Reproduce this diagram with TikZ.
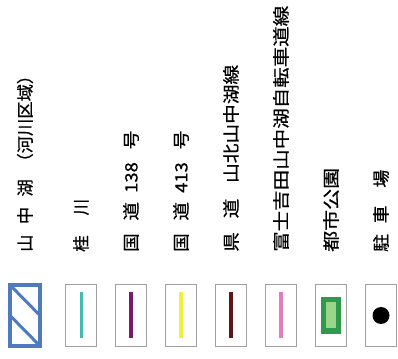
\documentclass[tikz,border=0pt]{standalone}
\usepackage{fontspec}
\setmainfont{Noto Sans CJK JP}[FakeBold=0.6]
\usepackage{graphicx}
\definecolor{lakeblue}{HTML}{4E7BC0}
\definecolor{boxgray}{HTML}{A0A0A0}
\definecolor{rivercol}{HTML}{45B8B4}
\definecolor{routeA}{HTML}{7A1A6A}
\definecolor{routeB}{HTML}{F0F03C}
\definecolor{prefcol}{HTML}{5E1616}
\definecolor{cyclecol}{HTML}{E67CC0}
\definecolor{parkdark}{HTML}{2F9A4B}
\definecolor{parklight}{HTML}{9BD58A}
\usetikzlibrary{positioning}
\tikzset{
  framebox/.style={draw=boxgray, line width=1pt, minimum width=31pt, minimum height=62pt, inner sep=0pt},
  lbl/.style={rotate=90, anchor=west, inner sep=0pt, font=\fontsize{17}{17}\selectfont},
  symline/.style={line width=4pt}
}
\newcommand{\legendtext}[2]{\resizebox{#1}{\height}{#2}}

\begin{document}
\begin{tikzpicture}[x=1pt,y=1pt]
  \useasboundingbox (0,0) rectangle (398,358);

  % Boxes
  \node[draw=lakeblue, line width=4pt, minimum width=30pt, minimum height=61pt, inner sep=0pt, outer sep=0pt] (lake) at (25,42.5) {};
  \node[framebox, right=25pt of lake]      (river)     {};
  \node[framebox, right=18pt of river]     (route138)  {};
  \node[framebox, right=18pt of route138]  (route413)  {};
  \node[framebox, right=18pt of route413]  (prefroad)  {};
  \node[framebox, right=18pt of prefroad]  (cycleroad) {};
  \node[framebox, right=18pt of cycleroad] (park)      {};
  \node[framebox, right=18pt of park]      (parking)   {};

  % Symbols
  \draw[lakeblue, line width=3pt] (lake.north west) -- (lake.east);
  \draw[lakeblue, line width=3pt] (lake.west) -- (lake.south east);
  \draw[symline, rivercol, line width=3pt] ([yshift=23pt]river.center) -- ([yshift=-23pt]river.center);
  \draw[symline, routeA] ([yshift=23pt]route138.center) -- ([yshift=-23pt]route138.center);
  \draw[symline, routeB] ([yshift=23pt]route413.center) -- ([yshift=-23pt]route413.center);
  \draw[symline, prefcol] ([yshift=23pt]prefroad.center) -- ([yshift=-23pt]prefroad.center);
  \draw[symline, cyclecol] ([yshift=23pt]cycleroad.center) -- ([yshift=-23pt]cycleroad.center);
  \node[fill=parkdark, minimum width=20pt, minimum height=37pt, inner sep=0pt] (parkout) at (park.center) {};
  \node[fill=parklight, minimum width=10pt, minimum height=26pt, inner sep=0pt] (parkin) at (park.center) {};
  \fill (parking.center) circle (8.5pt);

  % Labels
  \node[above=33pt of lake, lbl]      (lakelbl)  {\legendtext{185pt}{山\hspace{0.6em}中\hspace{0.6em}湖\hspace{0.5em}（河川区域）}};
  \node[above=32pt of river, lbl]     (riverlbl) {\legendtext{53pt}{桂\hspace{1.2em}川}};
  \node[above=32pt of route138, lbl]  (r138lbl)  {\legendtext{121pt}{国\hspace{0.7em}道\hspace{0.5em}138\hspace{0.7em}号}};
  \node[above=32pt of route413, lbl]  (r413lbl)  {\legendtext{121pt}{国\hspace{0.7em}道\hspace{0.5em}413\hspace{0.7em}号}};
  \node[above=32pt of prefroad, lbl]  (preflbl)  {\legendtext{187pt}{県\hspace{0.7em}道\hspace{0.8em}山北山中湖線}};
  \node[above=32pt of cycleroad, lbl] (cyclelbl) {\legendtext{246pt}{富士吉田山中湖自転車道線}};
  \node[above=32pt of park, lbl]      (parklbl)  {\legendtext{84pt}{都市公園}};
  \node[above=32pt of parking, lbl]   (parkinglbl) {\legendtext{82pt}{駐\hspace{0.6em}車\hspace{1em}場}};
\end{tikzpicture}
\end{document}
